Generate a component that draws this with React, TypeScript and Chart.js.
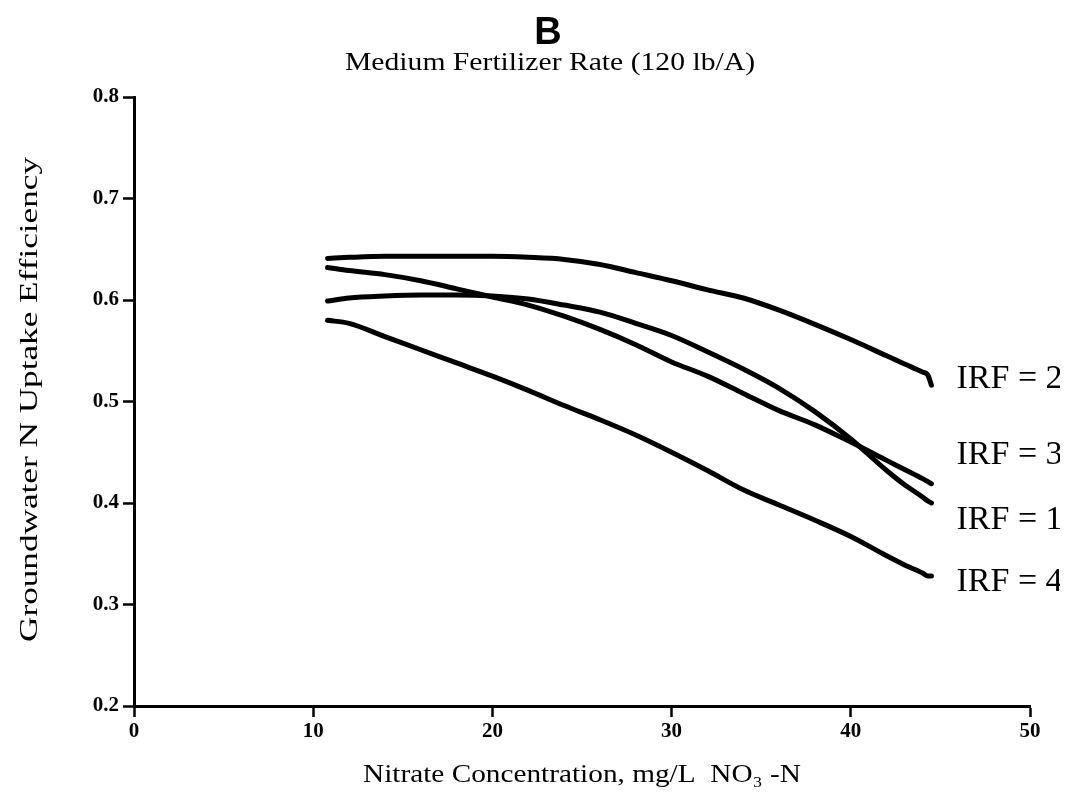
import React, { useEffect, useRef } from 'react';
import { Chart, registerables } from 'chart.js';

Chart.register(...registerables);

// Nitrate concentration (mg/L NO3-N) sample points
const concentrations = [10.8, 12, 14, 16, 18, 20, 22, 24, 26, 28, 30, 32, 34, 36, 38, 40, 42, 43, 44, 44.3, 44.5];

// Groundwater N uptake efficiency per irrigation rate factor
const irf1 = [0.599, 0.602, 0.604, 0.605, 0.605, 0.604, 0.601, 0.595, 0.588, 0.577, 0.565, 0.549, 0.532, 0.513, 0.490, 0.463, 0.432, 0.418, 0.406, 0.402, 0.400];
const irf2 = [0.641, 0.642, 0.643, 0.643, 0.643, 0.643, 0.642, 0.640, 0.635, 0.627, 0.619, 0.610, 0.602, 0.590, 0.576, 0.561, 0.545, 0.537, 0.529, 0.526, 0.516];
const irf3 = [0.632, 0.629, 0.625, 0.619, 0.611, 0.603, 0.595, 0.584, 0.571, 0.556, 0.539, 0.525, 0.508, 0.491, 0.477, 0.460, 0.442, 0.433, 0.424, 0.421, 0.419];
const irf4 = [0.580, 0.577, 0.564, 0.551, 0.538, 0.525, 0.511, 0.496, 0.482, 0.467, 0.450, 0.432, 0.413, 0.398, 0.383, 0.367, 0.348, 0.339, 0.331, 0.328, 0.328];

const seriesLabels = ['IRF = 1', 'IRF = 2', 'IRF = 3', 'IRF = 4'];
const seriesValues = [irf1, irf2, irf3, irf4];

const xTickValues = [0, 10, 20, 30, 40, 50];
const yTickValues = [0.2, 0.3, 0.4, 0.5, 0.6, 0.7, 0.8];

const panelTitle = 'B';
const panelSubtitle = 'Medium Fertilizer Rate (120 lb/A)';
const xAxisTitle = 'Nitrate Concentration, mg/L  NO\u2083 -N';
const yAxisTitle = 'Groundwater N Uptake Efficiency';

// label anchors in data coordinates (x, y) for each series label
const labelAnchors: Record<string, [number, number]> = {
  'IRF = 2': [45.9, 0.5222],
  'IRF = 3': [45.9, 0.4473],
  'IRF = 1': [45.9, 0.3833],
  'IRF = 4': [45.9, 0.3222],
};

const SERIF = "'Liberation Serif', 'Times New Roman', serif";

function stretchedText(ctx: CanvasRenderingContext2D, text: string, cx: number, cy: number, targetWidth: number, rotate: boolean) {
  const w = ctx.measureText(text).width;
  const sx = w > 0 ? targetWidth / w : 1;
  ctx.save();
  ctx.translate(cx, cy);
  if (rotate) ctx.rotate(-Math.PI / 2);
  ctx.scale(sx, 1);
  ctx.textAlign = 'center';
  ctx.textBaseline = 'middle';
  ctx.fillText(text, 0, 0);
  ctx.restore();
}

const annotationPlugin = {
  id: 'annotationText',
  afterDraw(chart: any) {
    const { ctx, chartArea } = chart;
    const xs = chart.scales.x;
    const ys = chart.scales.y;
    ctx.save();
    ctx.fillStyle = '#000';
    // panel letter
    ctx.font = "bold 38px 'Liberation Sans', Arial, sans-serif";
    ctx.textAlign = 'center';
    ctx.textBaseline = 'middle';
    ctx.fillText(panelTitle, 540, 26);
    // subtitle
    ctx.font = `26px ${SERIF}`;
    stretchedText(ctx, panelSubtitle, 542, 55, 410, false);
    // axis titles
    ctx.font = `26px ${SERIF}`;
    stretchedText(ctx, xAxisTitle, (chartArea.left + chartArea.right) / 2, 767, 438, false);
    stretchedText(ctx, yAxisTitle, 22, (chartArea.top + chartArea.bottom) / 2 - 2, 485, true);
    // series labels
    ctx.font = `34px ${SERIF}`;
    ctx.textAlign = 'left';
    ctx.textBaseline = 'middle';
    seriesLabels.forEach((name) => {
      const a = labelAnchors[name];
      if (!a) return;
      ctx.fillText(name, xs.getPixelForValue(a[0]), ys.getPixelForValue(a[1]));
    });
    ctx.restore();
  },
};

export default function App() {
  const canvasRef = useRef<HTMLCanvasElement | null>(null);

  useEffect(() => {
    const canvas = canvasRef.current;
    if (!canvas) return;
    const datasets = seriesLabels.map((name, i) => ({
      label: name,
      data: concentrations.map((c, j) => ({ x: c, y: seriesValues[i][j] })),
      borderColor: '#000',
      backgroundColor: '#000',
      borderWidth: 5,
      pointRadius: 0,
      fill: false,
      cubicInterpolationMode: 'monotone' as const,
      borderCapStyle: 'round' as const,
      borderJoinStyle: 'round' as const,
    }));

    const chart = new Chart(canvas, {
      type: 'line',
      data: { datasets },
      plugins: [annotationPlugin],
      options: {
        responsive: false,
        animation: false,
        layout: { padding: { top: 89, right: 30, bottom: 0, left: 0 } },
        plugins: {
          legend: { display: false },
          tooltip: { enabled: false },
          title: { display: false },
        },
        scales: {
          x: {
            type: 'linear',
            min: 0,
            max: 50,
            afterFit: (scale: any) => { scale.height = 85; },
            afterBuildTicks: (scale: any) => { scale.ticks = xTickValues.map((v) => ({ value: v })); },
            ticks: {
              color: '#000',
              font: { family: SERIF, size: 21, weight: 'bold' },
              padding: 2,
              maxRotation: 0,
              callback: (v: any) => String(v),
            },
            grid: {
              drawOnChartArea: false,
              drawTicks: true,
              tickLength: 11,
              tickWidth: 2.5,
              tickColor: '#000',
            },
            border: { display: true, color: '#000', width: 3 },
            title: { display: false },
          },
          y: {
            type: 'linear',
            min: 0.2,
            max: 0.8,
            afterFit: (scale: any) => { scale.width = 126; },
            afterBuildTicks: (scale: any) => { scale.ticks = yTickValues.map((v) => ({ value: v })); },
            ticks: {
              color: '#000',
              font: { family: SERIF, size: 21, weight: 'bold' },
              padding: 4,
              callback: (v: any) => Number(v).toFixed(1),
            },
            grid: {
              drawOnChartArea: false,
              drawTicks: true,
              tickLength: 11,
              tickWidth: 2.5,
              tickColor: '#000',
            },
            border: { display: true, color: '#000', width: 3 },
            title: { display: false },
          },
        },
      },
    });
    return () => chart.destroy();
  }, []);

  return (
    <div style={{ width: 1052, height: 783 }}>
      <canvas ref={canvasRef} width={1052} height={783} style={{ display: 'block', width: 1052, height: 783 }} />
    </div>
  );
}
